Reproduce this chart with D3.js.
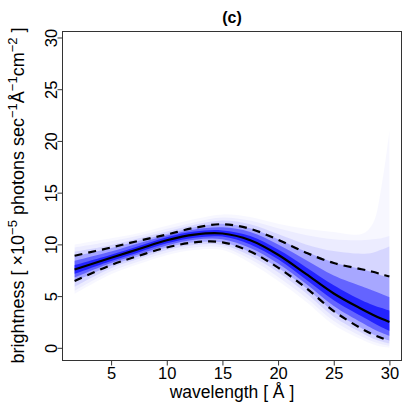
<!DOCTYPE html>
<html>
<head>
<meta charset="utf-8">
<script src="https://cdn.jsdelivr.net/npm/d3@7/dist/d3.min.js"></script>
<style>
  body { margin: 0; background: #fff; }
  svg text { font-family: "Liberation Sans", Arial, sans-serif; fill: #000; }
</style>
</head>
<body>
<svg id="chart" width="407" height="407"></svg>
<script>
// wavelength grid (Å) and brightness values
var wavelength = [1.72, 5, 7.5, 10, 12.5, 15, 17.5, 20, 22.5, 25, 27.5, 28.5, 29.3, 30];
var median     = [7.57, 8.7, 9.55, 10.4, 10.95, 11.05, 10.4, 9.0, 7.15, 5.25, 3.75, 3.2, 2.8, 2.5];
var upperDash  = [8.9, 9.7, 10.35, 10.95, 11.6, 11.95, 11.5, 10.45, 9.2, 8.2, 7.6, 7.35, 7.1, 6.9];
var lowerDash  = [6.47, 8.0, 8.9, 9.7, 10.2, 10.2, 9.3, 7.75, 5.8, 3.55, 1.85, 1.3, 0.95, 0.65];

// quantile bands, outermost first
var band0Lo = [5.2, 7.1, 8.1, 8.95, 9.45, 9.45, 8.2, 6.45, 4.45, 2.2, 0.8, 0.35, 0.1, 0.0];
var band0Hi = [10.0, 10.6, 11.1, 11.8, 12.45, 12.9, 12.65, 12.0, 11.5, 11.2, 11.0, 12.0, 15.7, 21.0];
var band1Lo = [5.5, 7.4, 8.35, 9.2, 9.7, 9.7, 8.55, 6.85, 4.85, 2.6, 1.1, 0.6, 0.35, 0.2];
var band1Hi = [9.7, 10.3, 10.85, 11.5, 12.15, 12.6, 12.3, 11.55, 10.9, 10.5, 10.4, 10.5, 10.6, 10.8];
var band2Lo = [5.9, 7.7, 8.6, 9.45, 9.95, 9.95, 8.9, 7.3, 5.3, 3.0, 1.45, 0.9, 0.6, 0.4];
var band2Hi = [9.3, 9.95, 10.6, 11.25, 11.9, 12.3, 11.95, 11.0, 10.0, 9.35, 9.1, 9.2, 9.5, 9.8];
var band3Lo = [6.4, 7.95, 8.85, 9.7, 10.2, 10.2, 9.25, 7.75, 5.8, 3.5, 1.9, 1.3, 0.95, 0.7];
var band3Hi = [8.85, 9.65, 10.35, 11.0, 11.65, 12.0, 11.55, 10.5, 9.3, 8.25, 7.6, 7.3, 7.0, 6.8];
var band4Lo = [6.8, 8.2, 9.05, 9.9, 10.45, 10.5, 9.65, 8.15, 6.2, 4.05, 2.45, 1.85, 1.45, 1.15];
var band4Hi = [8.4, 9.3, 10.1, 10.85, 11.45, 11.65, 11.2, 10.0, 8.5, 7.0, 5.95, 5.55, 5.2, 4.9];
var band5Lo = [7.15, 8.4, 9.25, 10.1, 10.65, 10.75, 10.0, 8.55, 6.6, 4.6, 3.05, 2.45, 2.0, 1.65];
var band5Hi = [8.0, 9.0, 9.85, 10.7, 11.25, 11.35, 10.8, 9.5, 7.8, 6.05, 4.6, 4.15, 3.85, 3.6];

var xTicks = [5, 10, 15, 20, 25, 30];
var yTicks = [0, 5, 10, 15, 20, 25, 30];
var yLim = [0, 29.45];

var bands = [
	{lo: band0Lo, hi: band0Hi, alpha: 0.03},
	{lo: band1Lo, hi: band1Hi, alpha: 0.045},
	{lo: band2Lo, hi: band2Hi, alpha: 0.09},
	{lo: band3Lo, hi: band3Hi, alpha: 0.22},
	{lo: band4Lo, hi: band4Hi, alpha: 0.4},
	{lo: band5Lo, hi: band5Hi, alpha: 0.65}
];

var svg = d3.select("#chart");
var plotL = 62, plotR = 402, plotT = 31, plotB = 360;

// R style 4% axis extension
var xr = d3.extent(wavelength), xpad = (xr[1] - xr[0]) * 0.04;
var ypad = (yLim[1] - yLim[0]) * 0.04;
var x = d3.scaleLinear().domain([xr[0] - xpad, xr[1] + xpad]).range([plotL, plotR]);
var y = d3.scaleLinear().domain([yLim[0] - ypad, yLim[1] + ypad]).range([plotB, plotT]);

var idx = d3.range(wavelength.length);
var curve = d3.curveCatmullRom.alpha(0.5);

var area = function(lo, hi) {
	return d3.area()
		.curve(curve)
		.x(function(i) { return x(wavelength[i]); })
		.y0(function(i) { return y(lo[i]); })
		.y1(function(i) { return y(hi[i]); });
};
var line = function(vals) {
	return d3.line()
		.curve(curve)
		.x(function(i) { return x(wavelength[i]); })
		.y(function(i) { return y(vals[i]); });
};

svg.append("g").selectAll("path")
	.data(bands)
	.enter().append("path")
	.attr("d", function(b) { return area(b.lo, b.hi)(idx); })
	.attr("fill", "#0000ff")
	.attr("fill-opacity", function(b) { return b.alpha; });

svg.append("path").attr("d", line(upperDash)(idx))
	.attr("fill", "none").attr("stroke", "#000").attr("stroke-width", 2.2).attr("stroke-dasharray", "8,6");
svg.append("path").attr("d", line(lowerDash)(idx))
	.attr("fill", "none").attr("stroke", "#000").attr("stroke-width", 2.2).attr("stroke-dasharray", "8,6");
svg.append("path").attr("d", line(median)(idx))
	.attr("fill", "none").attr("stroke", "#000").attr("stroke-width", 2.2);

// box
svg.append("rect")
	.attr("x", plotL + 0.5).attr("y", plotT + 0.5)
	.attr("width", plotR - plotL - 1).attr("height", plotB - plotT)
	.attr("fill", "none").attr("stroke", "#333");

var xAxis = svg.append("g")
	.attr("transform", "translate(0," + (plotB + 0.5) + ")")
	.call(d3.axisBottom(x).tickValues(xTicks).tickSize(5).tickFormat(d3.format("d")));
xAxis.select(".domain").remove();
xAxis.selectAll("line").attr("stroke", "#333");
xAxis.selectAll("text").attr("font-size", 16.5).attr("font-family", null).attr("y", 7).attr("dy", "0.71em");

var yAxis = svg.append("g")
	.attr("transform", "translate(" + (plotL + 0.5) + ",0)")
	.call(d3.axisLeft(y).tickValues(yTicks).tickSize(5).tickFormat(d3.format("d")));
yAxis.select(".domain").remove();
yAxis.selectAll("line").attr("stroke", "#333");
yAxis.selectAll("text")
	.attr("font-size", 16.5).attr("font-family", null)
	.attr("x", null).attr("dy", null)
	.attr("text-anchor", "middle")
	.attr("transform", "translate(-6,0) rotate(-90)");

svg.append("text")
	.attr("x", (plotL + plotR) / 2).attr("y", 23)
	.attr("text-anchor", "middle").attr("font-size", 16).attr("font-weight", "bold")
	.text("(c)");

svg.append("text")
	.attr("x", (plotL + plotR) / 2).attr("y", 398)
	.attr("text-anchor", "middle").attr("font-size", 17.5)
	.text("wavelength [ Å ]");

var yl = svg.append("text")
	.attr("transform", "translate(24," + ((plotT + plotB) / 2) + ") rotate(-90)")
	.attr("text-anchor", "middle").attr("font-size", 18);
yl.append("tspan").text("brightness [  ×10");
yl.append("tspan").attr("font-size", 13).attr("dy", -7).text("−5");
yl.append("tspan").attr("dy", 7).text(" photons sec");
yl.append("tspan").attr("font-size", 13).attr("dy", -7).text("−1");
yl.append("tspan").attr("dy", 7).text("Å");
yl.append("tspan").attr("font-size", 13).attr("dy", -7).text("−1");
yl.append("tspan").attr("dy", 7).text("cm");
yl.append("tspan").attr("font-size", 13).attr("dy", -7).text("−2");
yl.append("tspan").attr("dy", 7).text(" ]");
</script>
</body>
</html>
